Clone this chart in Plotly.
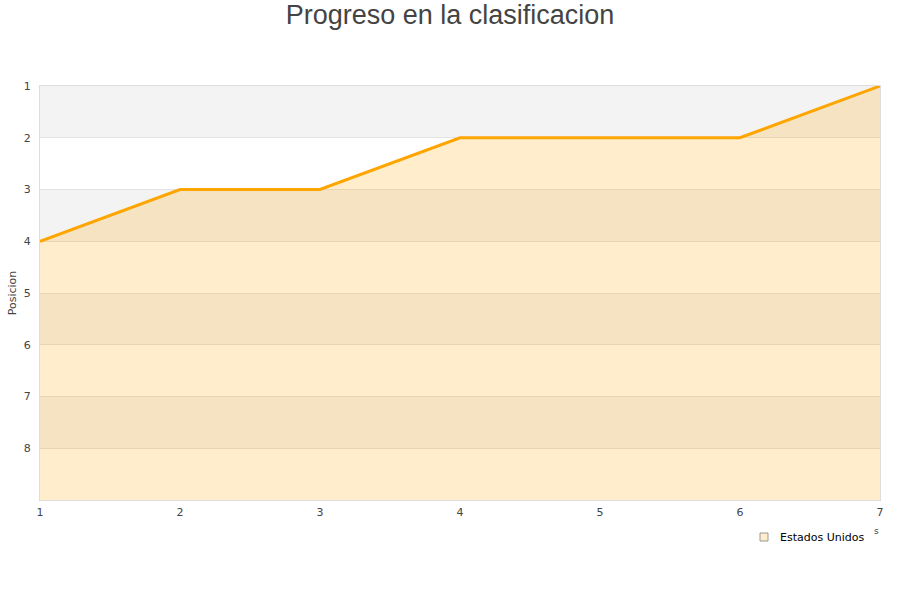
import plotly.graph_objects as go

jornadas = [1, 2, 3, 4, 5, 6, 7]
posicion = [4, 3, 3, 2, 2, 2, 1]
serie = "Estados Unidos"
titulo = "Progreso en la clasificacion"
y_title = "Posicion"
x_title_fragment = "s"

y_bottom = 9
fig = go.Figure()

# alternating bands
for lo in [1, 3, 5, 7]:
    fig.add_shape(type="rect", xref="paper", yref="y", x0=0, x1=1, y0=lo, y1=lo + 1,
                  fillcolor="#f3f3f3", line_width=0, layer="below")

fig.add_trace(go.Scatter(x=jornadas, y=[y_bottom] * len(jornadas), mode="lines",
                         line=dict(width=0), showlegend=False, hoverinfo="skip"))
fig.add_trace(go.Scatter(x=jornadas, y=posicion, mode="lines", fill="tonexty",
                         fillcolor="rgba(255,165,0,0.2)",
                         line=dict(color="#ffa500", width=3), showlegend=False))

# legend (drawn manually)
plot_w, plot_h = 840, 414
leg_y = (500 - 537) / plot_h
fig.add_shape(type="rect", xref="paper", yref="paper",
              xsizemode="pixel", ysizemode="pixel",
              xanchor=(764 - 40) / plot_w, yanchor=leg_y,
              x0=-4, x1=4, y0=-4, y1=4,
              fillcolor="#ffedcc", line=dict(color="#999999", width=1))
fig.add_annotation(text=serie, xref="paper", yref="paper", x=(778 - 40) / plot_w, y=leg_y,
                   xanchor="left", yanchor="middle", showarrow=False,
                   font=dict(family="DejaVu Sans", size=11, color="#000000"))
# clipped axis-title fragment visible in the reference
fig.add_annotation(text=x_title_fragment, xref="paper", yref="paper",
                   x=(876 - 40) / plot_w, y=(500 - 531) / plot_h,
                   xanchor="center", yanchor="middle", showarrow=False,
                   font=dict(family="DejaVu Sans", size=9, color="#444444"))

fig.update_layout(
    width=900, height=600,
    paper_bgcolor="white", plot_bgcolor="white",
    margin=dict(l=40, r=20, t=86, b=100),
    title=dict(text=titulo, x=0.5, xanchor="center", y=0.975, yanchor="middle",
               font=dict(family="Liberation Sans, Arial", size=27, color="#444444")),
    font=dict(family="DejaVu Sans", size=11, color="#444444"),
    xaxis=dict(range=[1, 7], tickvals=jornadas, showgrid=False, zeroline=False,
               showline=True, linecolor="#dddddd", mirror=True, ticks="outside",
               ticklen=2, tickcolor="rgba(0,0,0,0)", automargin=False,
               tickfont=dict(size=11, color="#444444")),
    yaxis=dict(range=[9, 1], tickvals=[1, 2, 3, 4, 5, 6, 7, 8], showgrid=True,
               gridcolor="#e2e2e2", zeroline=False, showline=True, linecolor="#dddddd",
               mirror=True, ticks="outside", ticklen=6, tickcolor="rgba(0,0,0,0)",
               automargin=False,
               title=dict(text=y_title, standoff=4, font=dict(size=11, color="#444444")),
               tickfont=dict(size=11, color="#444444")),
    showlegend=False,
)

fig.write_html("out.html", config={"displayModeBar": False},
               post_script="document.body.style.margin='0px';")
